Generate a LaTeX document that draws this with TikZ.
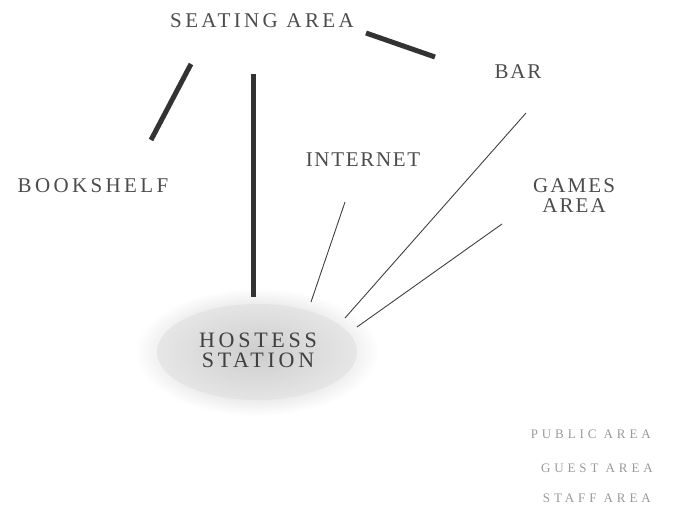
\documentclass[tikz,border=0pt]{standalone}
\usepackage{fontspec}
\setmainfont{Liberation Serif}
\begin{document}
\begin{tikzpicture}[x=1pt,y=-1pt,
  lbl/.style={text=black!70, inner sep=0pt, align=center,
    font=\fontsize{21}{20}\selectfont\addfontfeatures{LetterSpace=#1}},
  lbl/.default=16,
  hostlbl/.style={text=black!75, inner sep=0pt, align=center,
    font=\fontsize{22}{20}\selectfont\addfontfeatures{LetterSpace=17}},
  leg/.style={text=black!40, inner sep=0pt, anchor=east,
    font=\fontsize{13}{14}\selectfont\addfontfeatures{LetterSpace=30}},
  thick link/.style={line width=5pt, draw=black!80},
  thin link/.style={line width=0.9pt, draw=black!75}]
\useasboundingbox (0,0) rectangle (673,511);
% hostess station
\shade[inner color=black!30, outer color=white] (257,352) ellipse (122 and 64);
\fill[black!12, opacity=0.6] (257,352) ellipse (100 and 48);
\node[hostlbl] (host) at (258,350) {HOSTESS\\STATION};
% labels
\node[lbl=16] (seat) at (262,21) {SEATING AREA};
\node[lbl=16] (book) at (93,186) {BOOKSHELF};
\node[lbl=8] (net) at (363,160) {INTERNET};
\node[lbl=9] (bar) at (518,72) {BAR};
\node[lbl=10] (games) at (574,196) {GAMES\\AREA};
% legend
\node[leg] (pub) at (651,434) {PUBLIC AREA};
\node[leg] (guest) at (653,468) {GUEST AREA};
\node[leg] (staff) at (651,498) {STAFF AREA};
% connector end points
\coordinate (s1) at (191,64);
\coordinate (b1) at (151,140);
\coordinate (s2) at (253,74);
\coordinate (h2) at (253,297);
\coordinate (s3) at (366,33);
\coordinate (r3) at (435,57);
\coordinate (n4) at (345,202);
\coordinate (h4) at (311,302);
\coordinate (r5) at (526,113);
\coordinate (h5) at (345,318);
\coordinate (g6) at (502,224);
\coordinate (h6) at (357,327);
\draw[thick link] (s1) -- (b1);
\draw[thick link] (s2) -- (h2);
\draw[thick link] (s3) -- (r3);
\draw[thin link] (n4) -- (h4);
\draw[thin link] (r5) -- (h5);
\draw[thin link] (g6) -- (h6);
\end{tikzpicture}
\end{document}
